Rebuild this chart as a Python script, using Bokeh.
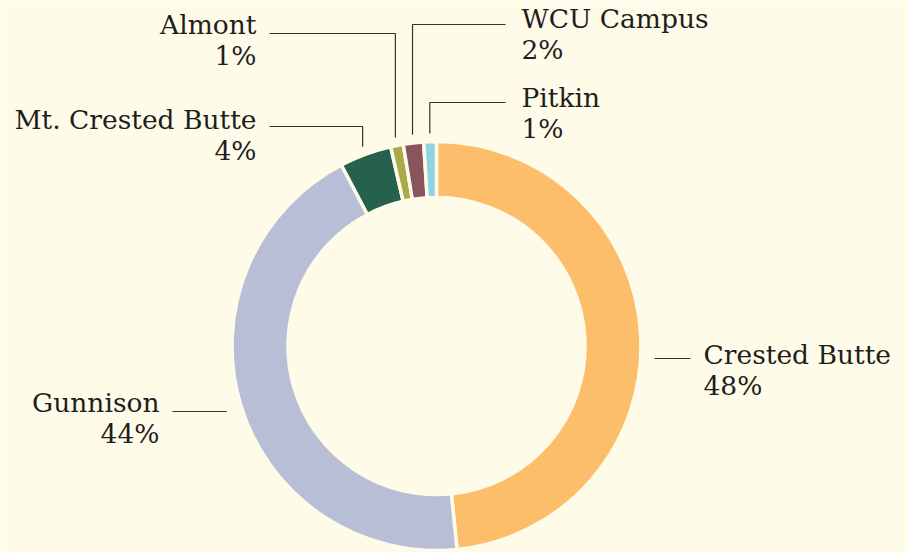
import math
from bokeh.plotting import figure
from bokeh.models import Range1d, ColumnDataSource
from bokeh.core.properties import value
from bokeh.embed import file_html
from bokeh.resources import INLINE

# ---- data ----
categories = ["Crested Butte", "Gunnison", "Mt. Crested Butte", "Almont", "WCU Campus", "Pitkin"]
shares = [48.4, 43.9, 4.1, 1.0, 1.6, 1.0]
colors = ["#fdbe6b", "#b9bed7", "#25614d", "#a9aa4a", "#8a545c", "#8fd4e1"]

# ---- layout (screen px) ----
W, H = 908, 552
BG = "#fffbe9"
FONT = "DejaVu Serif"
FS = "26.5px"
CX, CY = 436, 345.5
R_OUT, R_IN = 204.5, 148.5
TEXT_SHIFT = -10


def ys(y):  # screen y (down) -> data y (up)
    return H - y


p = figure(width=W, height=H, output_backend="svg", toolbar_location=None,
           x_range=Range1d(0, W), y_range=Range1d(0, H),
           min_border=0, background_fill_color=BG, border_fill_color=BG,
           outline_line_color=None)
p.axis.visible = False
p.grid.visible = False

total = sum(shares)
starts, ends, mids = [], [], []
cum = 0.0
for v in shares:
    a0 = cum / total
    cum += v
    a1 = cum / total
    starts.append(math.pi / 2 - 2 * math.pi * a0)
    ends.append(math.pi / 2 - 2 * math.pi * a1)
    mids.append((a0 + a1) / 2)

src = ColumnDataSource(dict(x=[CX] * len(shares), y=[ys(CY)] * len(shares),
                            start=starts, end=ends, color=colors))
p.annular_wedge(x="x", y="y", inner_radius=R_IN, outer_radius=R_OUT,
                start_angle="start", end_angle="end", direction="clock",
                fill_color="color", line_color=BG, line_width=3.5, source=src)

pcts = [f"{round(v / total * 100)}%" for v in shares]

# label layout: (kind, leader_y, text_x, align, name_baseline)
layout = {
    "Crested Butte": ("h", 358, 703, "left", 364),
    "Gunnison": ("h", 411, 159, "right", 412),
    "Mt. Crested Butte": ("v", 126, 256, "right", 129),
    "Almont": ("v", 33, 256, "right", 34),
    "WCU Campus": ("v", 24, 521, "left", 28),
    "Pitkin": ("v", 102, 521, "left", 107),
}
LINE_GAP = 31
LC = "#333333"

for cat, pct, m in zip(categories, pcts, mids):
    kind, ly, tx, align, nb = layout[cat]
    nb += TEXT_SHIFT
    if kind == "v":
        ang = 2 * math.pi * m
        r = R_OUT + 8
        vx = CX + r * math.sin(ang)
        vy = CY - r * math.cos(ang)
        hx = tx + 13 if align == "right" else tx - 16
        p.line([hx, vx, vx], [ys(ly), ys(ly), ys(vy)], line_color=LC, line_width=1.2)
    else:
        dy = ly - CY
        edge = math.sqrt(R_OUT ** 2 - dy ** 2)
        if align == "left":
            x0 = CX + edge + 14
            x1 = tx - 13
        else:
            x0 = CX - edge - 16
            x1 = tx + 13
        p.line([x0, x1], [ys(ly), ys(ly)], line_color=LC, line_width=1.2)
    p.text(x=[tx, tx], y=[ys(nb), ys(nb + LINE_GAP)], text=[cat, pct],
           text_align=align, text_baseline="alphabetic",
           text_font=value(FONT), text_font_size=FS, text_color="#1e1e1e")

open("out.html", "w").write(file_html(p, INLINE))
